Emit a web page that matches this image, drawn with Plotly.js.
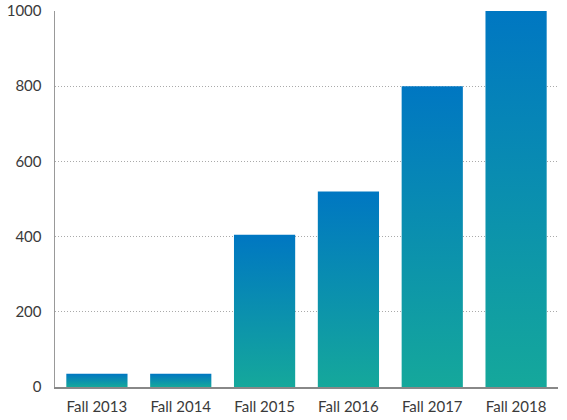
<!DOCTYPE html>
<html>
<head>
<meta charset="utf-8">
<script src="https://cdn.plot.ly/plotly-3.0.1.min.js"></script>
<style>html,body{margin:0;padding:0;background:#fff;}#chart{width:567px;height:420px;}</style>
</head>
<body>
<div id="chart"></div>
<script>
var categories = ["Fall 2013", "Fall 2014", "Fall 2015", "Fall 2016", "Fall 2017", "Fall 2018"];
var values = [35, 35, 405, 520, 800, 1000];
var yTicks = [0, 200, 400, 600, 800, 1000];

var trace = {
  type: "bar",
  x: categories,
  y: values,
  marker: {color: "#0a8fb0", line: {width: 0}},
  hoverinfo: "x+y"
};

var layout = {
  width: 567, height: 420,
  margin: {l: 55, r: 9, t: 11, b: 33, pad: 0},
  paper_bgcolor: "#fff", plot_bgcolor: "#fff",
  bargap: 0.27,
  showlegend: false,
  font: {family: "Lato, 'Open Sans', sans-serif", size: 15, color: "#333"},
  xaxis: {
    type: "category",
    showline: true, linecolor: "#888", linewidth: 2,
    showgrid: false, zeroline: false,
    ticks: "", ticklabelstandoff: 5,
    tickfont: {size: 15, color: "#3a3a3a"}
  },
  yaxis: {
    range: [0, 1000],
    tickvals: yTicks,
    showline: true, linecolor: "#999", linewidth: 1.5,
    showgrid: true, gridcolor: "#aaa", gridwidth: 1, griddash: "1px,2px",
    zeroline: false,
    ticks: "", ticklabelstandoff: 9,
    tickfont: {size: 15, color: "#3a3a3a"}
  }
};

Plotly.newPlot("chart", [trace], layout, {displayModeBar: false, staticPlot: true}).then(function(gd){
  var svgNS = "http://www.w3.org/2000/svg";
  var svg = gd.querySelector("svg.main-svg");
  var defs = svg.querySelector("defs");
  if (!defs) { defs = document.createElementNS(svgNS, "defs"); svg.insertBefore(defs, svg.firstChild); }
  var grad = document.createElementNS(svgNS, "linearGradient");
  grad.setAttribute("id", "barGrad");
  grad.setAttribute("x1", "0"); grad.setAttribute("y1", "0");
  grad.setAttribute("x2", "0"); grad.setAttribute("y2", "1");
  var s1 = document.createElementNS(svgNS, "stop");
  s1.setAttribute("offset", "0"); s1.setAttribute("stop-color", "#0077c2");
  var s2 = document.createElementNS(svgNS, "stop");
  s2.setAttribute("offset", "1"); s2.setAttribute("stop-color", "#15a89b");
  grad.appendChild(s1); grad.appendChild(s2);
  defs.appendChild(grad);
  gd.querySelectorAll(".bars .point path").forEach(function(p){
    p.style.fill = "url(#barGrad)";
    p.style.fillOpacity = 1;
  });
});
</script>
</body>
</html>
